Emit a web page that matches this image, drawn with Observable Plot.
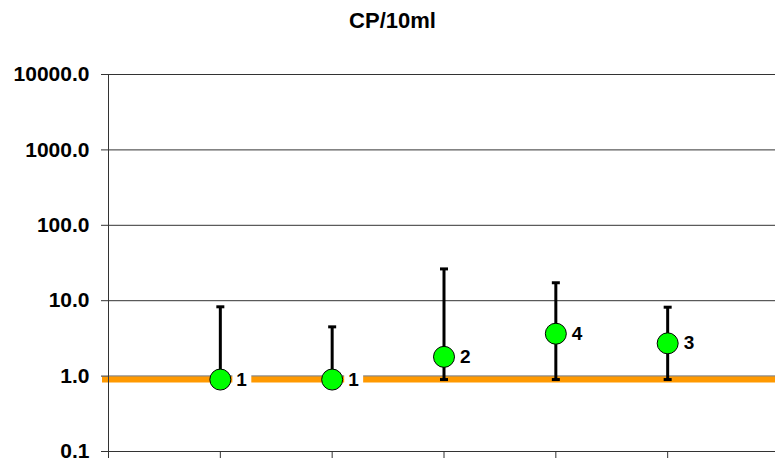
<!DOCTYPE html>
<html>
<head>
<meta charset="utf-8">
<script src="https://cdn.jsdelivr.net/npm/d3@7"></script>
<script src="https://cdn.jsdelivr.net/npm/@observablehq/plot@0.6"></script>
<style>
  html, body { margin: 0; padding: 0; background: #fff; }
  #title {
    width: 775px; height: 40px; box-sizing: border-box;
    padding-top: 10px; padding-left: 10px;
    font-family: "Liberation Sans", Arial, sans-serif;
    font-weight: bold; font-size: 22px; line-height: 21px;
    text-align: center; color: #000;
  }
</style>
</head>
<body>
<div id="title">CP/10ml</div>
<div id="chart"></div>
<script>
// ---- data ----
const categories = [1, 2, 3, 4, 5];
const values     = [0.9, 0.9, 1.8, 3.65, 2.72];
const upper      = [8.3, 4.5, 26.4, 17.3, 8.2];
const lower      = [0.9, 0.9, 0.9, 0.9, 0.9];
const labels     = ["1", "1", "2", "4", "3"];
const baseline   = 0.9;
const yTicks     = [0.1, 1, 10, 100, 1000, 10000];
const xTicks     = [0, 1, 2, 3, 4, 5, 6];

const rows = categories.map((c, i) => ({
  x: c, y: values[i], lo: lower[i], hi: upper[i], label: labels[i]
}));

// horizontal cap symbol for error bars
const capSymbol = {
  draw(ctx) { ctx.moveTo(-4, 0); ctx.lineTo(4, 0); }
};

const chart = Plot.plot({
  width: 775,
  height: 424,
  marginTop: 34,
  marginBottom: 13,
  marginLeft: 108,
  marginRight: 0,
  style: {fontFamily: "'Liberation Sans', Arial, sans-serif", fontWeight: "bold", color: "#000", background: "#fff"},
  x: {type: "linear", domain: [0, 6], range: [108, 779]},
  y: {type: "log", domain: [0.1, 10000]},
  marks: [
    Plot.ruleY(yTicks, {stroke: "#333", strokeWidth: 1}),
    Plot.ruleY([baseline], {stroke: "#FF9900", strokeWidth: 6, insetLeft: -6}),
    Plot.ruleX([0], {stroke: "#333", strokeWidth: 1}),
    Plot.axisY({
      ticks: yTicks, tickSize: 7, tickPadding: 12,
      tickFormat: d3.format(".1f"), fontSize: 21, fontWeight: "bold",
      stroke: "#333", fill: "#000", label: null
    }),
    Plot.axisX({
      ticks: xTicks, tickSize: 7, tickFormat: () => "", stroke: "#333", label: null
    }),
    Plot.dot(rows, {x: "x", y: "y", symbol: "square", r: 10.7, fill: "#fff", stroke: "none", dx: 21.5}),
    Plot.ruleX(rows, {x: "x", y1: "lo", y2: "hi", stroke: "#000", strokeWidth: 3}),
    Plot.dot(rows, {x: "x", y: "hi", symbol: capSymbol, fill: "none", stroke: "#000", strokeWidth: 3}),
    Plot.dot(rows, {x: "x", y: "lo", symbol: capSymbol, fill: "none", stroke: "#000", strokeWidth: 3}),
    Plot.dot(rows, {x: "x", y: "y", r: 10.5, fill: "#00FF00", stroke: "#000", strokeWidth: 1}),
    Plot.text(rows, {x: "x", y: "y", text: "label", dx: 16, textAnchor: "start",
      fontSize: 19, fontWeight: "bold", fill: "#000"})
  ]
});
document.getElementById("chart").appendChild(chart);
</script>
</body>
</html>
